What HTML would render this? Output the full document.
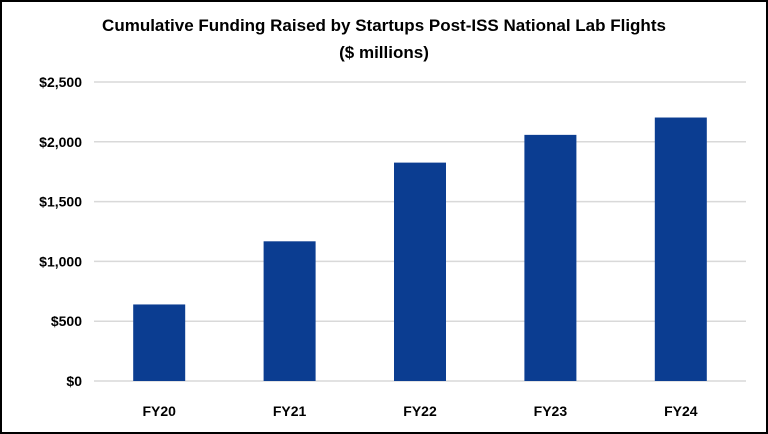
<!DOCTYPE html>
<html><head><meta charset="utf-8"><style>
html,body{margin:0;padding:0;background:#fff}
svg{display:block;font-family:"Liberation Sans",sans-serif}
</style></head><body>
<svg width="768" height="434" viewBox="0 0 768 434">
<rect x="1" y="1" width="766" height="432" fill="#fff" stroke="#000" stroke-width="2"/>
<text x="384" y="31" text-anchor="middle" font-size="17" font-weight="bold" fill="#000">Cumulative Funding Raised by Startups Post-ISS National Lab Flights</text>
<text x="384" y="58" text-anchor="middle" font-size="17" font-weight="bold" fill="#000">($ millions)</text>
<g id="grid"></g><g id="bars"></g><g id="labels"></g>
</svg>
<script>
const categories=["FY20","FY21","FY22","FY23","FY24"];
const values=[640,1168,1826,2058,2203];
const ticks=[0,500,1000,1500,2000,2500];
const tickLabels=["$0","$500","$1,000","$1,500","$2,000","$2,500"];
const NS="http://www.w3.org/2000/svg";
const x0=94,x1=746,y0=381,y1=82,maxV=2500;
const y=v=>y0-(v/maxV)*(y0-y1);
const band=(x1-x0)/categories.length;
const xc=i=>x0+band*(i+0.5);
const bw=52;
const grid=document.getElementById('grid'),bars=document.getElementById('bars'),labels=document.getElementById('labels');
function mk(t,a){const e=document.createElementNS(NS,t);for(const k in a)e.setAttribute(k,a[k]);return e;}
ticks.forEach((t,i)=>{
 const l=mk('line',{x1:x0,x2:x1,y1:y(t),y2:y(t),stroke:'#d9d9d9','stroke-width':1.5});
 
 
 grid.appendChild(l);
 const tx=mk('text',{x:82,y:y(t)+5,'text-anchor':'end','font-size':14,'font-weight':'bold',fill:'#000'});
 tx.textContent=tickLabels[i];
 
 
 labels.appendChild(tx);
});
categories.forEach((c,i)=>{
 const r=mk('rect',{x:xc(i)-bw/2,y:y(values[i]),width:bw,height:y0-y(values[i]),fill:'#0b3d91'});
 
 
 bars.appendChild(r);
 const tx=mk('text',{x:xc(i),y:416,'text-anchor':'middle','font-size':14,'font-weight':'bold',fill:'#000'});
 tx.textContent=c;
 
 
 labels.appendChild(tx);
});
</script>
</body></html>
